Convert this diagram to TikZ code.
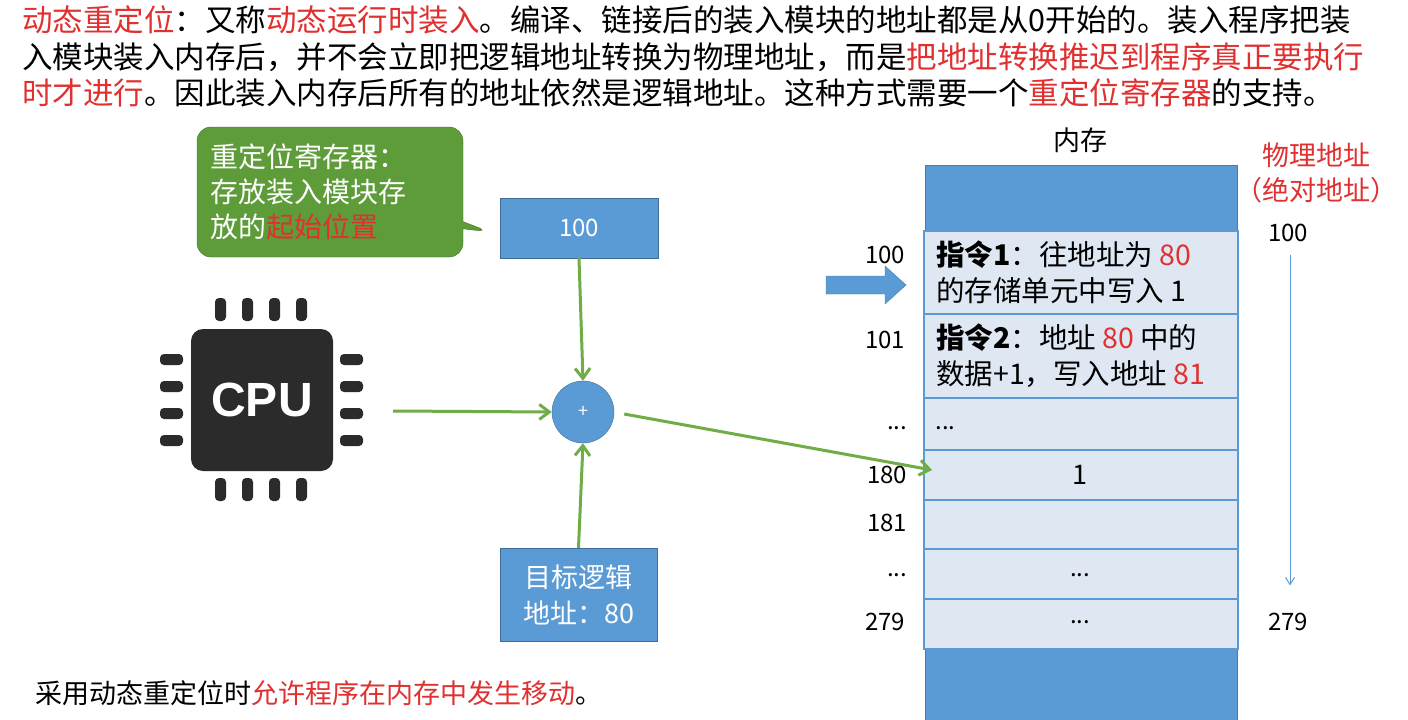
\documentclass[tikz,border=0pt]{standalone}
\usepackage{fontspec}
\setmainfont{Noto Sans CJK SC}
\usetikzlibrary{arrows.meta,shapes.arrows,shapes.callouts}
\definecolor{mblue}{HTML}{5B9BD5}
\definecolor{cell}{HTML}{DEE7F2}
\definecolor{mred}{HTML}{E03030}
\definecolor{mgreen}{HTML}{70AD47}
\definecolor{cgreen}{HTML}{5E9C3A}
\definecolor{chip}{HTML}{2B2B2B}
\newcommand{\rd}[1]{\textcolor{mred}{#1}}
\tikzset{
 big/.style={font=\fontsize{30.5}{32}\selectfont,anchor=west,inner sep=0},
 mid/.style={font=\fontsize{27}{35}\selectfont},
 celltxt/.style={font=\fontsize{28.5}{36}\selectfont,anchor=west,align=left,inner sep=0},
 lab/.style={font=\fontsize{24}{26}\selectfont},
 cellbox/.style={draw=mblue,line width=1.5pt,fill=cell,minimum width=314pt,anchor=north west,inner sep=0},
 bbox/.style={draw=mblue!70!black,fill=mblue,text=white,inner sep=0},
 garrow/.style={draw=mgreen,line width=3pt,-{Straight Barb[length=10pt,width=15pt]}},
 pin/.style={fill=chip,rounded corners=4pt}
}
\begin{document}
\begin{tikzpicture}[x=1pt,y=-1pt]
\useasboundingbox (0,0) rectangle (1408,720);
\fill[white] (0,0) rectangle (1408,720);
% top text
\node[big] (t1) at (22,20) {\rd{动态重定位}：又称\rd{动态运行时装入}。编译、链接后的装入模块的地址都是从0开始的。装入程序把装};
\node[big] (t2) at (22,57) {入模块装入内存后，并不会立即把逻辑地址转换为物理地址，而是\rd{把地址转换推迟到程序真正要执行}};
\node[big] (t3) at (22,93) {\rd{时才进行}。因此装入内存后所有的地址依然是逻辑地址。这种方式需要一个\rd{重定位寄存器}的支持。};
% memory
\node[draw=mblue!80!black,fill=mblue,minimum width=312pt,minimum height=555pt,anchor=north west,inner sep=0] (mem) at (925,165) {};
\node[mid] (memt) at (1080,140) {内存};
\node[cellbox,minimum height=83pt] (c1) at (923,230) {};
\node[cellbox,minimum height=84pt] (c2) at (923,313) {};
\node[cellbox,minimum height=52pt] (c3) at (923,397) {};
\node[cellbox,minimum height=50pt] (c4) at (923,449) {};
\node[cellbox,minimum height=49pt] (c5) at (923,499) {};
\node[cellbox,minimum height=50pt] (c6) at (923,548) {};
\node[cellbox,minimum height=50pt] (c7) at (923,598) {};
\node[celltxt] (c1t) at (936,272) {\textbf{指令1}：往地址为 \rd{80}\\的存储单元中写入 1};
\node[celltxt] (c2t) at (936,356) {\textbf{指令2}：地址 \rd{80} 中的\\数据+1，写入地址 \rd{81}};
\node[lab,anchor=west] (c3t) at (932,428) {...};
\node[mid] (c4t) at (1080,475) {1};
\node[lab] (c6t) at (1080,575) {...};
\node[lab] (c7t) at (1080,622) {...};
\node[lab] (a1) at (885,255) {100};
\node[lab] (a2) at (885,340) {101};
\node[lab] (a3) at (897,428) {...};
\node[lab] (a4) at (887,475) {180};
\node[lab] (a5) at (887,523) {181};
\node[lab] (a6) at (897,575) {...};
\node[lab] (a7) at (885,622) {279};
\filldraw[fill=mblue,draw=mblue!80!black] (826,276) -- (885,276) -- (885,266) -- (906,285) -- (885,304) -- (885,294) -- (826,294) -- cycle;
% physical address
\node[mid,text=mred] (p1) at (1316,155) {物理地址};
\node[mid,text=mred] (p2) at (1316,190) {（绝对地址）};
\node[lab] (p3) at (1288,233) {100};
\node[lab] (p4) at (1288,622) {279};
\draw[mblue,line width=1pt,-{Straight Barb[length=7pt,width=9pt]}] (p3.south)+(2,10) coordinate (pa) -- ++(2,340) coordinate (pb);
% registers
\node[bbox,minimum width=158pt,minimum height=60pt,font=\fontsize{24}{26}\selectfont] (reg) at (579,228) {100};
\node[bbox,minimum width=157pt,minimum height=93pt,align=center,font=\fontsize{27}{36}\selectfont] (tgt) at (578.5,594.5) {目标逻辑\\地址：80};
\node[rectangle callout,rounded corners=14pt,fill=cgreen,draw=cgreen!70!black,minimum width=266pt,minimum height=130pt,callout absolute pointer={(490,232)},text=white,align=left,text width=240pt,font=\fontsize{28}{35}\selectfont] (call) at (330,192) {重定位寄存器：\\存放装入模块存\\放的\rd{起始位置}};
% adder
\node[circle,fill=mblue,draw=mblue!70!black,minimum size=62pt,text=white,inner sep=0,font=\fontsize{18}{18}\selectfont] (add) at (583,412) {+};
% CPU
\node[fill=chip,rounded corners=12pt,minimum width=142pt,minimum height=142pt,text=white,font=\fontsize{48}{48}\selectfont\bfseries\fontspec{Liberation Sans}] (cpu) at (262,400) {CPU};
\foreach \i in {0,1,2,3}{
 \fill[pin] (215+\i*27,298) rectangle +(11,23);
 \fill[pin] (215+\i*27,478) rectangle +(11,23);
 \fill[pin] (160,354+\i*27) rectangle +(23,11);
 \fill[pin] (340,354+\i*27) rectangle +(23,11);
}
% arrows
\coordinate (cpuo) at (393,411);
\draw[garrow] (cpuo) -- (add.west);
\draw[garrow] (reg.south) -- (add.north);
\draw[garrow] (tgt.north) -- (add.south);
\coordinate (tgtp) at (932,470);
\draw[garrow] (add.east) ++(10,2) -- (tgtp);
% bottom
\node[big,font=\fontsize{27}{29}\selectfont] (bt) at (35,693) {采用动态重定位时\rd{允许程序在内存中发生移动}。};
\end{tikzpicture}
\end{document}
